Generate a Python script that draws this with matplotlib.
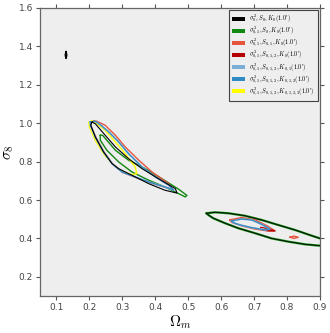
import matplotlib
matplotlib.use("Agg")
import matplotlib.pyplot as plt
from matplotlib.patches import Patch

plt.rcParams['mathtext.fontset'] = 'cm'

# ---------------- data (contour outlines) ----------------
labels = [
    r"$\sigma^2_0,S_0,K_0(1.0')$",
    r"$\sigma^2_{0,1},S_0,K_0(1.0')$",
    r"$\sigma^2_{0,1},S_{0,1},K_0(1.0')$",
    r"$\sigma^2_{0,1},S_{0,1,2},K_0(1.0')$",
    r"$\sigma^2_{0,1},S_{0,1,2},K_{0,1}(1.0')$",
    r"$\sigma^2_{0,1},S_{0,1,2},K_{0,1,2}(1.0')$",
    r"$\sigma^2_{0,1},S_{0,1,2},K_{0,1,2,3}(1.0')$",
]
colors = ["#000000", "#118811", "#e8553f", "#b30000", "#7aaed6", "#2f89c2", "#ffff00"]

# series 0 (black)
black_main_x = [0.208, 0.218, 0.248, 0.279, 0.319, 0.360, 0.410, 0.461, 0.466, 0.429, 0.380, 0.329, 0.289, 0.269, 0.243, 0.218, 0.204, 0.208]
black_main_y = [1.006, 0.997, 0.937, 0.876, 0.815, 0.763, 0.711, 0.659, 0.636, 0.651, 0.685, 0.729, 0.763, 0.789, 0.850, 0.928, 0.990, 1.006]
black_dot_x = [0.129, 0.131, 0.129, 0.127, 0.129]
black_dot_y = [1.372, 1.355, 1.338, 1.355, 1.372]
right_big_x = [0.556, 0.581, 0.622, 0.672, 0.723, 0.773, 0.824, 0.875, 0.900, 0.950, 0.950, 0.900, 0.855, 0.804, 0.753, 0.703, 0.652, 0.612, 0.576, 0.561, 0.556]
right_big_y = [0.531, 0.536, 0.531, 0.518, 0.496, 0.470, 0.444, 0.414, 0.400, 0.372, 0.354, 0.362, 0.369, 0.383, 0.400, 0.427, 0.453, 0.479, 0.505, 0.522, 0.531]

# series 1 (green)
green_main_x = [0.233, 0.233, 0.253, 0.289, 0.329, 0.380, 0.429, 0.471, 0.491, 0.496, 0.471, 0.420, 0.370, 0.319, 0.279, 0.253, 0.240, 0.233]
green_main_y = [0.937, 0.911, 0.859, 0.798, 0.746, 0.703, 0.668, 0.633, 0.616, 0.624, 0.656, 0.711, 0.763, 0.807, 0.859, 0.911, 0.937, 0.937]

# series 2 (red)
red_main_x = [0.213, 0.204, 0.205, 0.220, 0.245, 0.271, 0.301, 0.341, 0.382, 0.430, 0.451, 0.441, 0.390, 0.350, 0.309, 0.279, 0.248, 0.223, 0.213]
red_main_y = [1.013, 1.000, 0.985, 0.926, 0.848, 0.786, 0.743, 0.717, 0.691, 0.666, 0.659, 0.685, 0.746, 0.807, 0.876, 0.937, 0.989, 1.010, 1.013]
red_right_x = [0.627, 0.662, 0.703, 0.738, 0.763, 0.743, 0.703, 0.662, 0.632, 0.627]
red_right_y = [0.496, 0.508, 0.496, 0.466, 0.439, 0.439, 0.449, 0.466, 0.484, 0.496]

# series 3 (dark red)
dred_right_x = [0.720, 0.740, 0.763, 0.743, 0.720]
dred_right_y = [0.458, 0.451, 0.439, 0.440, 0.447]
dred_dot_x = [0.809, 0.821, 0.834, 0.821, 0.809]
dred_dot_y = [0.406, 0.412, 0.406, 0.400, 0.406]

# series 4/5 (blues)
blue_main_x = [0.203, 0.203, 0.218, 0.243, 0.269, 0.299, 0.339, 0.380, 0.429, 0.456, 0.441, 0.400, 0.360, 0.319, 0.289, 0.259, 0.233, 0.218, 0.203]
blue_main_y = [1.006, 0.989, 0.928, 0.850, 0.789, 0.746, 0.720, 0.694, 0.668, 0.651, 0.677, 0.720, 0.772, 0.841, 0.902, 0.954, 0.992, 1.010, 1.006]
blue_right_x = [0.632, 0.662, 0.693, 0.723, 0.748, 0.733, 0.693, 0.657, 0.637, 0.632]
blue_right_y = [0.491, 0.501, 0.496, 0.473, 0.449, 0.444, 0.456, 0.470, 0.482, 0.491]

# series 6 (yellow)
yellow_main_x = [0.208, 0.223, 0.248, 0.279, 0.309, 0.339, 0.344, 0.329, 0.299, 0.269, 0.243, 0.218, 0.200, 0.198, 0.208]
yellow_main_y = [1.011, 0.997, 0.963, 0.902, 0.841, 0.772, 0.737, 0.732, 0.749, 0.789, 0.841, 0.911, 0.980, 1.006, 1.011]

xticks = [0.1, 0.2, 0.3, 0.4, 0.5, 0.6, 0.7, 0.8, 0.9]
yticks = [0.2, 0.4, 0.6, 0.8, 1.0, 1.2, 1.4, 1.6]

# ---------------- plot ----------------
fig = plt.figure(figsize=(3.30, 3.33), dpi=100)
ax = fig.add_axes([40/330, 37/333, 280/330, 288/333])
ax.set_facecolor("#eeeeee")

lw = 1.0
# right cluster
ax.plot(right_big_x, right_big_y, color=colors[1], lw=1.6)
ax.plot(right_big_x, right_big_y, color=colors[0], lw=0.6)
ax.plot(red_right_x, red_right_y, color=colors[2], lw=1.2)
ax.plot(dred_right_x, dred_right_y, color=colors[3], lw=0.9)
ax.plot(dred_dot_x, dred_dot_y, color=colors[2], lw=1.0)
ax.plot(blue_right_x, blue_right_y, color=colors[4], lw=1.3)
ax.plot(blue_right_x, blue_right_y, color=colors[5], lw=0.7)
# main cluster
ax.plot(green_main_x, green_main_y, color=colors[1], lw=lw)
ax.plot(red_main_x, red_main_y, color=colors[2], lw=lw)
ax.plot(yellow_main_x, yellow_main_y, color=colors[6], lw=lw)
ax.plot(blue_main_x, blue_main_y, color=colors[4], lw=1.3)
ax.plot(blue_main_x, blue_main_y, color=colors[5], lw=0.7)
ax.plot(black_main_x, black_main_y, color=colors[0], lw=0.8)
ax.plot(black_dot_x, black_dot_y, color=colors[0], lw=1.2)

ax.set_xlim(0.05, 0.9)
ax.set_ylim(0.1, 1.6)
ax.set_xticks(xticks)
ax.set_yticks(yticks)
ax.set_xticklabels([f"{v:.1f}" for v in xticks])
ax.set_yticklabels([f"{v:.1f}" for v in yticks])
ax.tick_params(direction='out', length=3, width=0.8, color="#555555",
               labelsize=6.5, labelcolor="#444444", top=True, right=True,
               pad=2)
for s in ax.spines.values():
    s.set_color("#666666")
    s.set_linewidth(0.9)

ax.set_xlabel(r"$\Omega_m$", fontsize=11, labelpad=1)
ax.set_ylabel(r"$\sigma_8$", fontsize=11, labelpad=2)

handles = [Patch(facecolor=c, edgecolor='none') for c in colors]
leg = ax.legend(handles, labels, loc='upper right', fontsize=4.4,
                handlelength=2.1, handleheight=0.6, labelspacing=0.0,
                borderpad=0.5, handletextpad=0.8, fancybox=False,
                framealpha=1.0, borderaxespad=0.3)
leg.get_frame().set_edgecolor("#444444")
leg.get_frame().set_facecolor("#eeeeee")
leg.get_frame().set_linewidth(0.8)

fig.savefig("out.png", dpi=100)
